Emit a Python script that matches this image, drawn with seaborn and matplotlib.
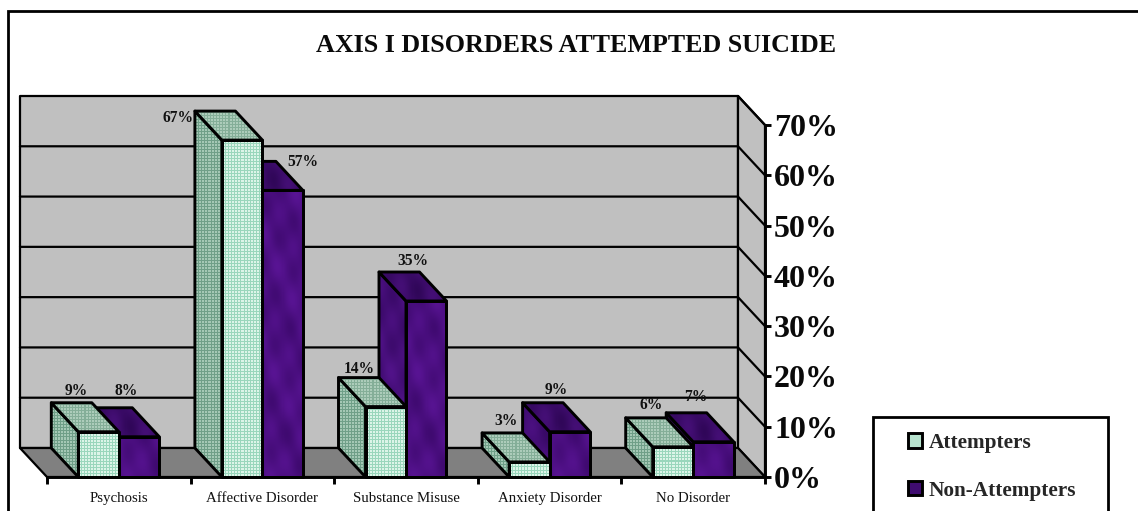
import numpy as np
import pandas as pd
import matplotlib
matplotlib.use("Agg")
import matplotlib.pyplot as plt
from matplotlib.lines import Line2D
from matplotlib.patches import Polygon
import seaborn as sns

categories = ["Psychosis", "Affective Disorder", "Substance Misuse", "Anxiety Disorder", "No Disorder"]
attempters = [9, 67, 14, 3, 6]
non_attempters = [8, 57, 35, 9, 7]
series_names = ["Attempters", "Non-Attempters"]
y_ticks = [0, 10, 20, 30, 40, 50, 60, 70]
title_text = "AXIS I DISORDERS ATTEMPTED SUICIDE"

W, H = 1138, 511
sns.set_theme(style="white")
plt.rcParams["font.family"] = ["Liberation Serif", "DejaVu Serif"]
LW = 2.1
WALL_LW = 1.6
INK = "black"

fig = plt.figure(figsize=(W / 100, H / 100), dpi=100, facecolor="white")
ax = fig.add_axes([47 / W, 1 - 477 / H, 718 / W, 352 / H])

df = pd.DataFrame({
    "Disorder": categories * 2,
    "Percent": attempters + non_attempters,
    "Group": [series_names[0]] * 5 + [series_names[1]] * 5,
})
sns.barplot(data=df, x="Disorder", y="Percent", hue="Group", hue_order=series_names,
            palette=["#d4f0e2", "#4a1080"], width=0.564, gap=0, dodge=True,
            edgecolor=INK, linewidth=LW, ax=ax)
ax.set_xlim(-0.5, 4.5)
ax.set_ylim(0, 70)

# Depth of the 3-D box, expressed in data units of the front plane
px_x = 718 / 5
px_y = 352 / 70
DX = -27 / px_x
DY = 29 / px_y


def stipple(w, h, base, dot, period=3):
    """Regular dotted fill, one array cell per output pixel."""
    yy, xx = np.mgrid[0:h, 0:w]
    arr = np.ones((h, w, 3)) * np.array(matplotlib.colors.to_rgb(base))
    arr[(yy % period == 0) | (xx % period == 0)] = matplotlib.colors.to_rgb(dot)
    return arr


def marble(w, h, base, amp=0.05):
    """Soft mottled fill built from overlapping sine waves."""
    yy, xx = np.mgrid[0:h, 0:w]
    wave = (np.sin(xx / 9.0 + yy / 17.0) + np.sin(xx / 6.3 - yy / 8.1)
            + np.sin((xx + yy * 0.4) / 3.7)) / 3
    arr = np.array(matplotlib.colors.to_rgb(base)) + amp * wave[..., None] * np.array([1, 0.4, 1.4])
    return np.clip(arr, 0, 1)


def textured_face(points, painter, z):
    """Fill a polygon given in data units with a pixel texture and outline it."""
    points = np.asarray(points)
    x0, x1 = points[:, 0].min(), points[:, 0].max()
    y0, y1 = points[:, 1].min(), points[:, 1].max()
    w = max(int(round((x1 - x0) * px_x)), 1)
    h = max(int(round((y1 - y0) * px_y)), 1)
    outline = Polygon(points, closed=True, fill=False, edgecolor=INK, linewidth=LW,
                      joinstyle="round", zorder=z + 0.1, clip_on=False)
    ax.add_patch(outline)
    img = ax.imshow(painter(w, h), extent=(x0, x1, y0, y1), aspect="auto",
                    interpolation="nearest", zorder=z, origin="lower")
    img.set_clip_path(Polygon(points, closed=True, transform=ax.transData))
    img.set_clip_box(fig.bbox)


def flat_face(points, color, z):
    ax.add_patch(Polygon(points, closed=True, facecolor=color, edgecolor=INK, linewidth=WALL_LW,
                         joinstyle="round", zorder=z, clip_on=False))


# Box: back wall, side wall, floor
x_lo, x_hi = -0.5, 4.5
flat_face([(x_lo + DX, DY), (x_hi + DX, DY), (x_hi + DX, 70 + DY), (x_lo + DX, 70 + DY)], "#c0c0c0", 1)
flat_face([(x_hi + DX, DY), (x_hi, 0), (x_hi, 70), (x_hi + DX, 70 + DY)], "#c0c0c0", 1)
flat_face([(x_lo + DX, DY), (x_hi + DX, DY), (x_hi, 0), (x_lo, 0)], "#808080", 1.5)
for v in y_ticks[1:-1]:
    ax.plot([x_lo + DX, x_hi + DX, x_hi], [v + DY, v + DY, v], color=INK, lw=WALL_LW, zorder=1.2,
            clip_on=False, solid_joinstyle="round")
ax.plot([x_hi + DX, x_hi], [70 + DY, 70], color=INK, lw=WALL_LW, zorder=1.2, clip_on=False)

# Bars: the second series sits behind the first, so it is painted first
painters = {
    0: {
        "front": lambda w, h: stipple(w, h, "#dcf4e8", "#9ad6bc"),
        "side": lambda w, h: stipple(w, h, "#a4c8b5", "#6f9f88"),
        "top": lambda w, h: stipple(w, h, "#acccba", "#84ae98"),
    },
    1: {
        "front": lambda w, h: marble(w, h, "#4c0f82"),
        "side": lambda w, h: marble(w, h, "#450e78"),
        "top": lambda w, h: marble(w, h, "#3d0c6b"),
    },
}

z = 3.0
for cat_idx in range(len(categories)):
    for group in (1, 0):
        bar = ax.containers[group][cat_idx]
        x0 = bar.get_x()
        x1 = x0 + bar.get_width()
        top = bar.get_height()
        textured_face([(x0, 0), (x0, top), (x0 + DX, top + DY), (x0 + DX, DY)], painters[group]["side"], z)
        textured_face([(x0, top), (x1, top), (x1 + DX, top + DY), (x0 + DX, top + DY)], painters[group]["top"], z + 0.2)
        textured_face([(x0, 0), (x1, 0), (x1, top), (x0, top)], painters[group]["front"], z + 0.4)
        bar.set_zorder(z + 0.5)
        bar.set_facecolor("none")
        bar.set_joinstyle("round")
        z += 1

# Value labels, nudged in pixels from the middle of each front face top
label_offsets = {
    0: [(-22, 41), (-64, 22), (-26, 38), (-23, 41), (-22, 42)],
    1: [(-13, 46), (20, 28), (-13, 40), (-14, 42), (-18, 45)],
}
for group, values in enumerate([attempters, non_attempters]):
    for bar, v, off in zip(ax.containers[group], values, label_offsets[group]):
        ax.annotate(f"{v}%", xy=(bar.get_x() + bar.get_width() / 2, v), xytext=off,
                    textcoords="offset pixels", ha="center", va="center",
                    fontsize=11.2, fontweight="bold", color="#111111", zorder=60,
                    annotation_clip=False)

# Axes furniture
for name in ("top", "left"):
    ax.spines[name].set_visible(False)
for name in ("right", "bottom"):
    ax.spines[name].set_visible(True)
    ax.spines[name].set_color(INK)
    ax.spines[name].set_linewidth(LW)
    ax.spines[name].set_zorder(50)
ax.patch.set_visible(False)
ax.set_xlabel("")
ax.set_ylabel("")
ax.yaxis.tick_right()
ax.set_yticks(y_ticks)
ax.set_yticklabels([f"{v}%" for v in y_ticks], fontsize=23, fontweight="bold", color="#0a0a0a")
ax.tick_params(axis="y", which="major", length=4.5, width=LW, color=INK, pad=2, right=True, left=False)
ax.set_xticks(range(len(categories)))
ax.set_xticklabels(categories, fontsize=10.7, color="#111111")
ax.tick_params(axis="x", which="major", length=0, pad=10.5)
ax.set_xticks(np.arange(-0.5, 5.0, 1.0), minor=True)
ax.tick_params(axis="x", which="minor", length=5, width=LW, color=INK, bottom=True)
ax.grid(False)

# Outer chart frame and legend frame run off the lower and right edges
fig.add_artist(Line2D([8 / W, 8 / W, 1], [0, 1 - 11 / H, 1 - 11 / H], color=INK, lw=2.0,
                      solid_joinstyle="miter"))
fig.add_artist(Line2D([873 / W, 873 / W, 1108 / W, 1108 / W], [0, 1 - 417 / H, 1 - 417 / H, 0],
                      color=INK, lw=2.0, solid_joinstyle="miter"))

sns.move_legend(ax, loc="upper left", bbox_to_anchor=(908 / W, 1 - 433 / H),
                bbox_transform=fig.transFigure, frameon=False, title=None,
                prop={"weight": "bold", "size": 15.3}, labelspacing=1.3,
                handlelength=0.68, handleheight=0.68, handletextpad=0.28, borderpad=0, borderaxespad=0)
leg = ax.get_legend()
for patch in leg.get_patches():
    patch.set_edgecolor(INK)
    patch.set_linewidth(LW)
leg.get_patches()[0].set_facecolor("#b8e4cf")
leg.get_patches()[1].set_facecolor("#3f0c70")
leg.set_zorder(70)

fig.text(576 / W, 1 - 46 / H, title_text, ha="center", va="center", fontsize=18.7,
         fontweight="bold", color="#0a0a0a")

fig.savefig("out.png", dpi=100, facecolor="white")
